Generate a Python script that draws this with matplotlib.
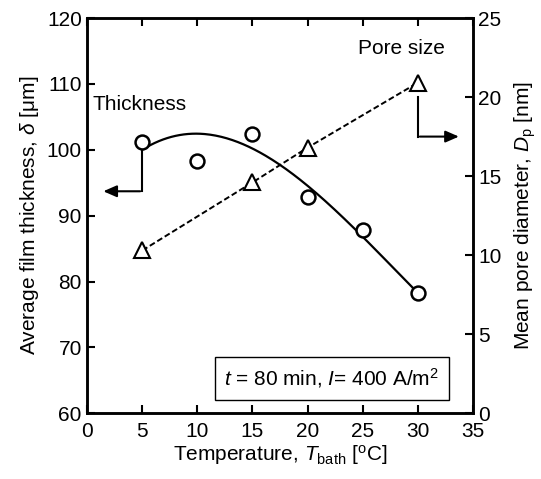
import numpy as np
import matplotlib
matplotlib.use("Agg")
import matplotlib.pyplot as plt

plt.rcParams['font.family'] = ['Liberation Sans', 'DejaVu Sans']
plt.rcParams['mathtext.fontset'] = 'custom'
plt.rcParams['mathtext.it'] = 'Liberation Sans:italic'
plt.rcParams['mathtext.rm'] = 'Liberation Sans'

# Data
temp_thick = [5, 10, 15, 20, 25, 30]
thickness = [101.2, 98.3, 102.4, 92.8, 87.8, 78.2]
temp_pore = [5, 15, 20, 30]
pore_size = [10.3, 14.6, 16.8, 20.9]

# smooth trend curve for thickness
curve_temp = [5, 10, 15, 20, 25, 30]
curve_thick = [100.2, 101.8, 100.9, 94.4, 86.6, 78.4]

x_ticks = [0, 5, 10, 15, 20, 25, 30, 35]
y_left_ticks = [60, 70, 80, 90, 100, 110, 120]
y_right_ticks = [0, 5, 10, 15, 20, 25]

fig = plt.figure(figsize=(5.41, 4.79), dpi=100)
ax = fig.add_axes([0.1614, 0.1372, 0.8737 - 0.1614, 0.9624 - 0.1372])
ax2 = ax.twinx()

fs = 15
lw_sp = 1.8

coef = np.polyfit(curve_temp, curve_thick, 3)
xs = np.linspace(curve_temp[0], curve_temp[-1], 200)
ax.plot(xs, np.polyval(coef, xs), color='black', lw=1.6, zorder=2)
ax.plot(temp_thick, thickness, 'o', ms=10, mfc='white', mec='black', mew=1.8, zorder=3)

ax2.plot(temp_pore, pore_size, '--', color='black', lw=1.4, dashes=(3, 1.5), zorder=2)
ax2.plot(temp_pore, pore_size, '^', ms=11.5, mfc='white', mec='black', mew=1.5, zorder=3)

ax.set_xlim(0, 35)
ax.set_ylim(60, 120)
ax2.set_ylim(0, 25)
ax.set_xticks(x_ticks)
ax.set_yticks(y_left_ticks)
ax2.set_yticks(y_right_ticks)

for a in (ax, ax2):
    for s in a.spines.values():
        s.set_linewidth(lw_sp)
ax.tick_params(axis='x', direction='in', top=True, length=6, width=1.5, labelsize=fs, pad=6)
ax.tick_params(axis='y', direction='in', length=6, width=1.5, labelsize=fs, pad=4)
ax2.tick_params(axis='y', direction='in', length=6, width=1.5, labelsize=fs, pad=4)

ax.set_xlabel(r'Temperature, $T_{\mathrm{bath}}$ [$^{\mathrm{o}}$C]', fontsize=fs, labelpad=2)
ax.set_ylabel(r'Average film thickness, $\delta$ [$\mathrm{\mu}$m]', fontsize=fs, labelpad=4)
ax2.set_ylabel(r'Mean pore diameter, $D_{\mathrm{p}}$ [nm]', fontsize=fs, labelpad=8)

# annotations
ax.text(0.45, 106.9, 'Thickness', fontsize=fs, va='center', ha='left')
ax2.text(28.5, 23.1, 'Pore size', fontsize=fs, va='center', ha='center')

ax.plot([5, 5], [100.2, 93.7], color='black', lw=1.5)
ax.annotate('', xy=(1.2, 93.7), xytext=(5.05, 93.7),
            arrowprops=dict(arrowstyle='-|>,head_length=0.8,head_width=0.35', color='black', lw=1.5))
ax2.plot([30, 30], [20.0, 17.5], color='black', lw=1.5)
ax2.annotate('', xy=(34.0, 17.5), xytext=(29.95, 17.5),
             arrowprops=dict(arrowstyle='-|>,head_length=0.8,head_width=0.35', color='black', lw=1.5))

ax.text(22.2, 65.3, r'$t$ = 80 min, $I$= 400 A/m$^2$', fontsize=fs, ha='center', va='center',
        bbox=dict(boxstyle='square,pad=0.45', fc='white', ec='black', lw=1.0))

fig.savefig('out.png', dpi=100)
